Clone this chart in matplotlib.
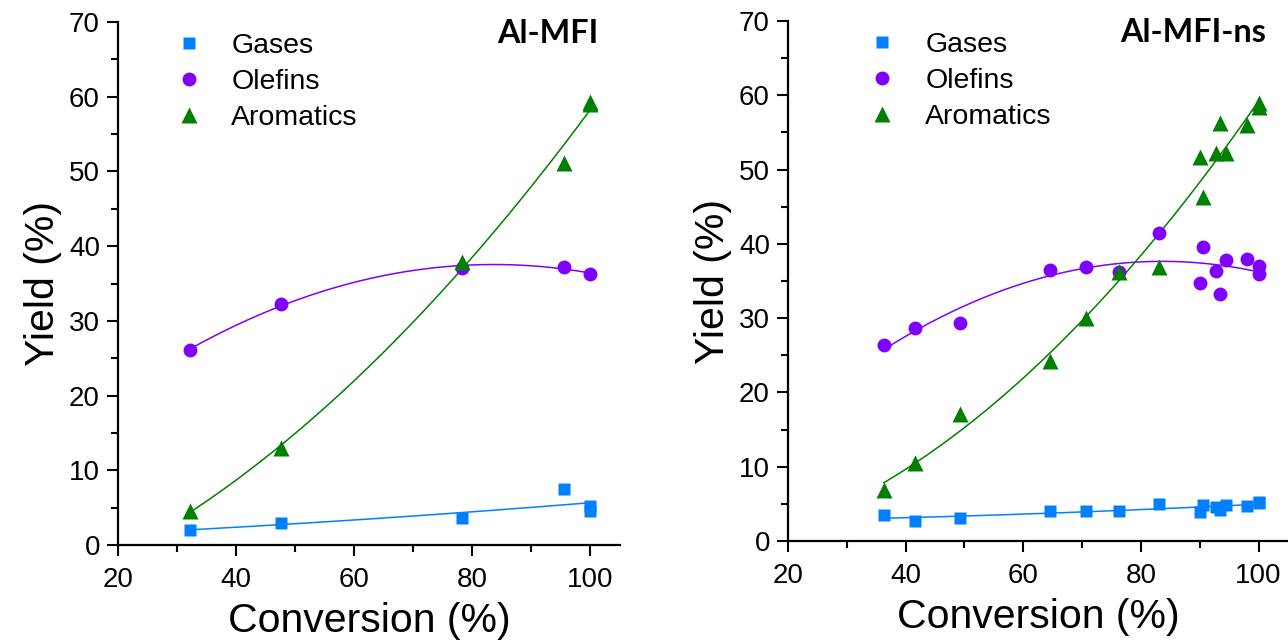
import numpy as np
import matplotlib.pyplot as plt
from matplotlib.ticker import MultipleLocator

plt.rcParams['font.family'] = ['Liberation Sans', 'DejaVu Sans']

# Al-MFI
conv_a = [32.2, 47.6, 78.2, 95.5, 100.0, 100.0]
gases_a = [2.0, 2.9, 3.6, 7.5, 4.6, 5.2]
conv_a_ol = [32.2, 47.6, 78.2, 95.5, 100.0]
olefins_a = [26.1, 32.3, 37.1, 37.2, 36.3]
conv_a_ar = [32.2, 47.6, 78.2, 95.5, 100.0, 100.0]
arom_a = [4.5, 13.0, 37.9, 51.1, 59.0, 59.3]

# Al-MFI-ns
conv_b = [36.3, 41.6, 49.2, 64.5, 70.6, 76.2, 83.0, 90.1, 90.5, 92.7, 93.5,
          94.5, 98.1, 100.0, 100.0]
gases_b = [3.5, 2.7, 3.1, 4.0, 4.0, 4.0, 5.0, 3.9, 4.8, 4.6, 4.2, 4.9, 4.7,
           5.1, 5.3]
olefins_b = [26.4, 28.7, 29.3, 36.5, 36.9, 36.2, 41.5, 34.7, 39.6, 36.4, 33.2,
             37.8, 37.9, 37.0, 35.9]
arom_b = [6.8, 10.5, 17.1, 24.2, 30.0, 36.2, 36.9, 51.7, 46.3, 52.2, 56.3,
          52.2, 56.0, 58.4, 59.0]

c_gas = '#0080FF'
c_ol = '#8000FF'
c_ar = '#008000'

fig = plt.figure(figsize=(12.88, 6.42), dpi=100)
ax1 = fig.add_axes([118/1288, 97/642, 502/1288, 523/642])
ax2 = fig.add_axes([788/1288, 101/642, 500/1288, 520/642])


def fitline(ax, x, y, color):
    p = np.polyfit(x, y, 2)
    xx = np.linspace(min(x), max(x), 200)
    ax.plot(xx, np.polyval(p, xx), '-', color=color, lw=1.1)


def panel(ax, xg, g, xo, o, xa, a, title, legx):
    fitline(ax, xg, g, c_gas)
    fitline(ax, xo, o, c_ol)
    fitline(ax, xa, a, c_ar)
    ax.plot(xg, g, 's', color=c_gas, ms=8.5, label='Gases', mec='none')
    ax.plot(xo, o, 'o', color=c_ol, ms=10, label='Olefins', mec='none')
    ax.plot(xa, a, '^', color=c_ar, ms=11.5, label='Aromatics', mec='none')
    ax.set_xlim(20, 105)
    ax.set_ylim(0, 70)
    ax.xaxis.set_major_locator(MultipleLocator(20))
    ax.xaxis.set_minor_locator(MultipleLocator(10))
    ax.yaxis.set_major_locator(MultipleLocator(10))
    ax.yaxis.set_minor_locator(MultipleLocator(5))
    for s in ['top', 'right']:
        ax.spines[s].set_visible(False)
    for s in ['left', 'bottom']:
        ax.spines[s].set_linewidth(1.6)
    ax.tick_params(which='major', direction='out', length=8, width=1.5,
                   labelsize=20)
    ax.tick_params(axis='x', which='major', pad=8)
    ax.tick_params(axis='y', which='major', pad=5)
    ax.tick_params(which='minor', direction='out', length=5, width=1.5)
    ax.set_xlabel('Conversion (%)', fontsize=29.5, labelpad=6)
    ax.set_ylabel('Yield (%)', fontsize=29.5, labelpad=5)
    ax.legend(loc='upper left', bbox_to_anchor=(legx, 1.0), frameon=False,
              fontsize=20.5, handletextpad=0.9, labelspacing=0.34,
              handlelength=1.2, borderaxespad=0)
    ax.text(0.957, 1.005, title, transform=ax.transAxes, ha='right', va='top',
            fontsize=23.3, fontweight='bold', family='Lato')


panel(ax1, conv_a, gases_a, conv_a_ol, olefins_a, conv_a_ar, arom_a,
      'Al-MFI', 0.084)
panel(ax2, conv_b, gases_b, conv_b, olefins_b, conv_b, arom_b,
      'Al-MFI-ns', 0.132)

fig.savefig('out.png', dpi=100)
